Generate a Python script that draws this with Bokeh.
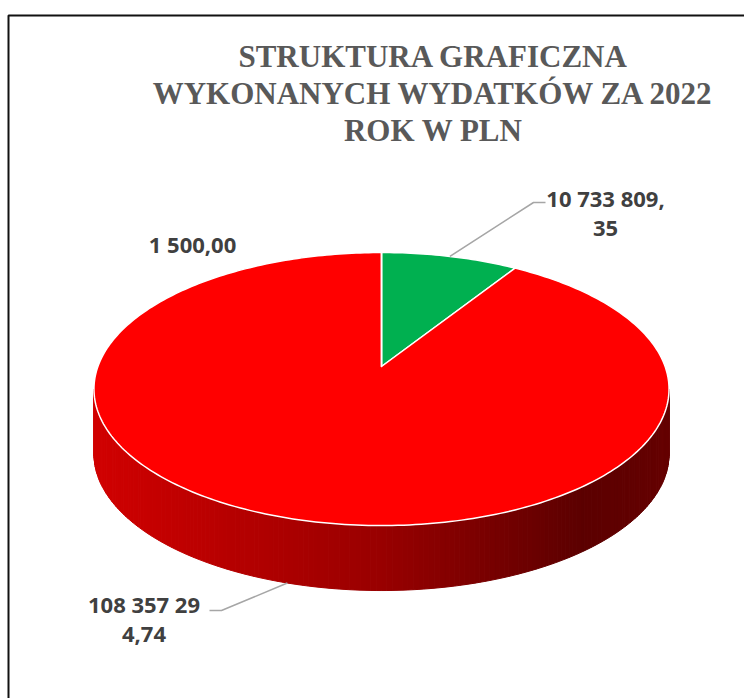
import numpy as np
from bokeh.plotting import figure
from bokeh.models import Range1d
from bokeh.core.properties import value
from bokeh.embed import file_html
from bokeh.resources import INLINE

# ---------------- data ----------------
title_lines = ["STRUKTURA GRAFICZNA", "WYKONANYCH WYDATKÓW ZA 2022", "ROK W PLN"]
categories = ["Wydatki 1", "Wydatki 2", "Wydatki 3"]
values = [10733809.35, 108357294.74, 1500.00]
colors = ["#00B050", "#FF0000", "#4472C4"]
label_wrap = [11, 10, 20]          # characters per label line (as wrapped in the original)

# ---------------- layout ----------------
W, H = 744, 698
CX, CY = 381.0, 366.0      # projected pie centre
A, B, P = 132.8, 283.6, 0.165  # vertical / horizontal radius, perspective factor
DEPTH = 65.0               # thickness of the pie
label_pos = [(605, 197), (143.5, 603), (192, 243)]
LINE_GAP = 31
leader_elbows = [[(533, 202), (545, 202)], [(221, 610), (209, 610)], None]
LABEL_COLOR = "#404040"
LEADER_COLOR = "#A6A6A6"


def proj(t, r=1.0, z=0.0):
    """t: angle clockwise from 12 o'clock (radians)."""
    u = r * np.sin(t)
    v = r * np.cos(t)
    d = 1 + P * v
    return CX + B * u / d, CY - A * v / d + z


def fmt(v):
    s = f"{v:,.2f}"
    return s.replace(",", " ").replace(".", ",")


def hex_to_rgb(h):
    h = h.lstrip("#")
    return tuple(int(h[i:i + 2], 16) for i in (0, 2, 4))


def shade(rgb, f):
    return "#%02x%02x%02x" % tuple(int(max(0, min(255, c * f))) for c in rgb)


p = figure(width=W, height=H, output_backend="svg", toolbar_location=None,
           x_range=Range1d(0, W), y_range=Range1d(H, 0), min_border=0)
p.axis.visible = False
p.grid.visible = False
p.outline_line_color = None
p.background_fill_color = "white"
p.border_fill_color = "white"

# cumulative angles
vals = np.array(values, dtype=float)
frac = vals / vals.sum()
ends = np.cumsum(frac) * 2 * np.pi
starts = ends - frac * 2 * np.pi
mids = (starts + ends) / 2


def slice_at(t):
    t = t % (2 * np.pi)
    for i in range(len(values)):
        if starts[i] <= t < ends[i]:
            return i
    return len(values) - 1


# ---------------- side (front wall) ----------------
t0 = np.arccos(-P)
t1 = 2 * np.pi - t0
ts = np.linspace(t0, t1, 181)
xl, yl, cl = [], [], []
xleft = proj(t1)[0]
xright = proj(t0)[0]
fx = [0.0, 0.5, 0.85, 1.0]
fy = [0.82, 0.60, 0.36, 0.40]
for a, b in zip(ts[:-1], ts[1:]):
    xa, ya = proj(a)
    xb, yb = proj(b)
    xa2, ya2 = proj(a, z=DEPTH)
    xb2, yb2 = proj(b, z=DEPTH)
    xl.append([xa, xb, xb2, xa2])
    yl.append([ya, yb, yb2, ya2])
    n = ((xa + xb) / 2 - xleft) / (xright - xleft)
    f = np.interp(n, fx, fy)
    cl.append(shade(hex_to_rgb(colors[slice_at((a + b) / 2)]), f))
p.patches(xl, yl, fill_color=cl, line_color=cl, line_width=1)

# ---------------- top face ----------------
for i in range(len(values)):
    n = max(2, int(np.ceil((ends[i] - starts[i]) / (2 * np.pi) * 360)) + 1)
    tt = np.linspace(starts[i], ends[i], n)
    px, py = proj(tt)
    xs = np.concatenate([[CX], px])
    ys = np.concatenate([[CY], py])
    p.patch(xs, ys, fill_color=colors[i], line_color="white", line_width=1.5,
            line_join="round")

# ---------------- leader lines ----------------
for i in range(len(values)):
    if leader_elbows[i] is None:
        continue
    front = np.cos(mids[i]) < -P
    ax, ay = proj(mids[i], z=DEPTH if front else 0.0)
    xs = [ax] + [e[0] for e in leader_elbows[i]]
    ys = [ay] + [e[1] for e in leader_elbows[i]]
    p.line(xs, ys, line_color=LEADER_COLOR, line_width=1.5)

# ---------------- labels ----------------
for i in range(len(values)):
    s = fmt(values[i])
    w = label_wrap[i]
    lines = [s[k:k + w] for k in range(0, len(s), w)]
    lx, ly = label_pos[i]
    p.text(x=[lx] * len(lines), y=[ly + LINE_GAP * k for k in range(len(lines))],
           text=lines, text_font=value("Open Sans"), text_font_style="bold",
           text_font_size="22px", text_color=LABEL_COLOR,
           text_align="center", text_baseline="middle")

# ---------------- title ----------------
p.text(x=[433] * 3, y=[56, 93, 130], text=title_lines,
       text_font=value("Liberation Serif"), text_font_style="bold",
       text_font_size="31px", text_color="#595959",
       text_align="center", text_baseline="alphabetic")

# ---------------- chart frame ----------------
p.quad(left=[8], right=[W + 20], top=[15], bottom=[H + 20],
       fill_color=None, line_color="#111111", line_width=2)

open("out.html", "w").write(file_html(p, INLINE))
